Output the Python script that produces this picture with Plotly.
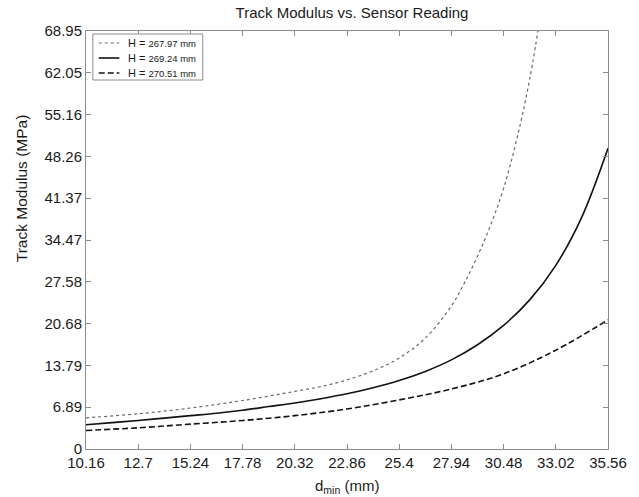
import plotly.graph_objects as go

# ---- data ----
x_dotted = [10.16, 12.7, 15.24, 17.78, 20.32, 21.59, 22.86, 24.13, 25.4, 26.67, 27.94, 28.575, 29.21, 29.845,
            30.48, 31.115, 31.75, 32.385]
y_dotted = [5.15, 5.8, 6.76, 8.0, 9.5, 10.3, 11.4, 12.9, 15.0, 18.3, 23.6, 27.4, 31.8, 36.9,
            43.0, 51.0, 61.0, 74.0]

x_solid = [10.16, 11.43, 12.7, 13.97, 15.24, 16.51, 17.78, 19.05, 20.32, 21.59, 22.86, 24.13, 25.4,
           26.67, 27.94, 29.21, 30.48, 31.75, 33.02, 34.29, 35.56]
y_solid = [4.0, 4.35, 4.7, 5.1, 5.5, 5.9, 6.4, 7.0, 7.6, 8.3, 9.1, 10.1, 11.3,
           12.8, 14.7, 17.2, 20.4, 24.6, 30.3, 38.3, 49.6]

x_dashed = [10.16, 12.7, 15.24, 17.78, 20.32, 22.86, 25.4, 27.94, 30.48, 33.02, 35.56]
y_dashed = [3.05, 3.5, 4.1, 4.7, 5.5, 6.6, 8.1, 9.9, 12.4, 16.3, 21.3]

series_names = ["H = 267.97 mm", "H = 269.24 mm", "H = 270.51 mm"]

x_ticks = [10.16, 12.7, 15.24, 17.78, 20.32, 22.86, 25.4, 27.94, 30.48, 33.02, 35.56]
x_tick_labels = ["10.16", "12.7", "15.24", "17.78", "20.32", "22.86", "25.4", "27.94", "30.48", "33.02", "35.56"]
y_ticks = [0, 6.895, 13.79, 20.685, 27.58, 34.475, 41.37, 48.265, 55.16, 62.055, 68.95]
y_tick_labels = ["0", "6.89", "13.79", "20.68", "27.58", "34.47", "41.37", "48.26", "55.16", "62.05", "68.95"]

FONT = "Liberation Sans, Arial, sans-serif"
AX = "#8c8c8c"
TXT = "#1a1a1a"

styles = [
    dict(color="#6a6a6a", width=1.2, dash="dot"),
    dict(color="#111111", width=1.6, dash="solid"),
    dict(color="#111111", width=1.6, dash="6px,3px"),
]
xs = [x_dotted, x_solid, x_dashed]
ys = [y_dotted, y_solid, y_dashed]

fig = go.Figure()
for name, xv, yv, st in zip(series_names, xs, ys, styles):
    fig.add_trace(go.Scatter(x=xv, y=yv, mode="lines", name=name,
                             line=dict(shape="spline", smoothing=1.0, **st),
                             showlegend=False))

W, H = 639, 497
L, R, T, B = 86, 21, 31, 48
pw, ph = W - L - R, H - T - B

fig.update_layout(
    width=W, height=H,
    margin=dict(l=L, r=R, t=T, b=B),
    paper_bgcolor="white", plot_bgcolor="white",
    font=dict(family=FONT, size=15, color=TXT),
    title=dict(text="Track Modulus vs. Sensor Reading", x=(L + pw / 2) / W, xanchor="center",
               y=1 - 13 / H, yanchor="middle", font=dict(size=15, color=TXT)),
    showlegend=False,
)
fig.update_xaxes(range=[10.16, 35.56], tickvals=x_ticks, ticktext=x_tick_labels,
                 showgrid=False, zeroline=False, showline=True, linecolor=AX, linewidth=1,
                 mirror="ticks", ticks="inside", ticklen=5, tickcolor=AX,
                 tickfont=dict(size=15, color=TXT))
fig.update_yaxes(range=[0, 68.95], tickvals=y_ticks, ticktext=y_tick_labels,
                 showgrid=False, zeroline=False, showline=True, linecolor=AX, linewidth=1,
                 mirror="ticks", ticks="inside", ticklen=5, tickcolor=AX,
                 tickfont=dict(size=15, color=TXT))

# axis titles
fig.add_annotation(text="d<sub>min</sub> (mm)", xref="paper", yref="paper",
                   x=0.5, y=-38 / ph, xanchor="center", yanchor="middle",
                   showarrow=False, font=dict(size=15, color=TXT))
fig.add_annotation(text="Track Modulus (MPa)", xref="paper", yref="paper", textangle=-90,
                   x=(20 - L) / pw, y=(449 - 188) / ph, xanchor="center", yanchor="middle",
                   showarrow=False, font=dict(size=15.5, color=TXT))

# legend box (manual, MATLAB style)
def px(xp):
    return (xp - L) / pw

def py(yp):
    return (T + ph - yp) / ph

fig.add_shape(type="rect", xref="paper", yref="paper",
              x0=px(93), x1=px(205), y0=py(80), y1=py(34),
              line=dict(color=AX, width=1), fillcolor="white", layer="above")
row_y = [43, 58, 73]
for name, st, ry in zip(series_names, styles, row_y):
    fig.add_shape(type="line", xref="paper", yref="paper",
                  x0=px(99), x1=px(120), y0=py(ry), y1=py(ry),
                  line=dict(color=st["color"], width=st["width"], dash=st["dash"]), layer="above")
    h, rest = name.split("= ")
    fig.add_annotation(text=f"{h}= <span style='font-size:9.5px'>{rest}</span>",
                       xref="paper", yref="paper", x=px(127), y=py(ry),
                       xanchor="left", yanchor="middle", showarrow=False,
                       font=dict(size=11, color=TXT))

fig.write_html("out.html", config={"displayModeBar": False},
               post_script="document.body.style.margin='0';document.body.style.padding='0';")
